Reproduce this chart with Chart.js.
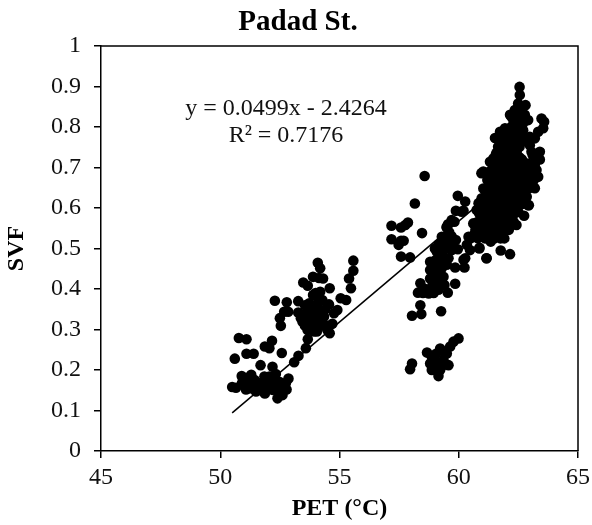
<!DOCTYPE html>
<html lang="en">
<head>
  <meta charset="UTF-8" />
  <title>Padad St.</title>
  <script src="https://cdn.jsdelivr.net/npm/chart.js"></script>
  <style>
    body { margin: 0; background: white; }
    canvas { display: block; }
  </style>
</head>
<body>
  <canvas id="svfChart" width="592" height="525"></canvas>
  <script>
    const titleText = 'Padad St.';
    const xTitle = 'PET (°C)';
    const yTitle = 'SVF';
    const eqLines = ['y = 0.0499x - 2.4264', 'R² = 0.7176'];
    const serif = '"Liberation Serif", serif';

    // pairs [PET, SVF]
    const lowGroup = [[50.5,.158],[50.66,.156],[50.61,.228],[50.78,.279],[51.1,.276],[51.1,.24],[51.4,.24],[51.69,.212],[50.9,.185],[51.3,.188],[50.91,.167],[51.08,.152],[51.22,.171],[51.36,.163],[51.5,.147],[51.64,.167],[51.87,.142],[51.85,.184],[52.19,.208],[52.33,.19],[52.06,.184],[51.92,.167],[52.4,.13],[52.61,.138],[52.78,.152],[52.86,.179],[52.75,.167],[52.33,.155],[52.54,.159],[52.19,.151],[51.87,.258],[52.17,.272],[52.06,.254],[52.58,.242],[52.54,.309],[52.5,.328],[52.68,.344],[52.85,.344],[52.79,.367],[52.29,.371],[53.1,.219],[53.28,.235],[53.59,.254],[53.67,.276],[53.27,.37],[53.27,.342],[53.48,.416],[53.67,.408],[53.89,.43],[54.09,.465],[54.19,.451],[54.14,.427],[54.31,.426],[54.59,.402],[54.19,.393],[53.89,.385],[54.14,.373],[53.73,.365],[54.56,.362],[54.91,.348],[54.77,.34],[55.05,.377],[55.28,.373],[55.48,.402],[55.4,.426],[55.58,.445],[55.58,.47],[53.45,.319],[53.59,.332],[53.73,.307],[53.87,.323],[54,.34],[53.66,.299],[53.93,.295],[54.35,.332],[54.7,.314],[54.49,.299],[54.59,.291],[54.14,.311],[53.38,.328],[53.8,.348],[54.28,.373],
      [50.95,.178],[51.15,.165],[51.3,.155],[51.45,.175],[51.6,.155],[51.75,.15],[52,.155],[52.45,.145],[52.65,.15],[52.5,.17],[53.55,.36],[53.95,.36],[54.05,.36],[53.9,.335],[54.1,.33],[53.7,.33],[53.55,.31],[53.85,.305],[54,.31],[54.25,.33],[54.4,.35],[54,.39],[54.45,.31],
      [51.1,.18],[51.45,.16],[51.75,.165],[52.05,.165],[52.15,.17],[52.35,.17],[52.6,.16],[52.45,.16],[51.2,.155],[53.65,.345],[53.85,.35],[54.15,.345],[54.3,.31],[53.75,.32],[54.05,.295]];

    const bottomGroup = [[58.04,.216],[57.96,.202],[59.99,.278],[59.78,.27],[58.67,.243],[59.15,.185],[58.87,.233],[59.22,.253],[59.5,.241],[59.57,.212],[58.87,.2],[59.22,.2],[59.01,.221],[59.36,.225],[58.8,.216],[59.64,.258],[59.05,.24],[59.3,.21],[59.1,.21],[59.4,.245]];

    const midGroup = [[58.57,.679],[58.16,.611],[57.18,.556],[57.58,.552],[57.87,.564],[57.76,.558],[58.46,.538],[57.18,.523],[57.58,.519],[57.69,.519],[57.48,.509],[57.58,.48],[57.96,.478],[59.26,.345],[58.04,.334],[58.43,.338],[58.39,.36],[58.29,.391],[58.39,.414],[58.74,.389],[59.15,.398],[59.54,.391],[59.85,.413],[59.85,.453],[60.24,.453],[58.8,.467],[58.8,.447],[58.8,.426],[59.08,.41],[59.01,.43],[59.36,.43],[59.29,.451],[59.08,.455],[59.08,.492],[59.36,.496],[59.57,.476],[59.22,.476],[59.71,.496],[59.96,.498],[59.29,.529],[59.64,.525],[59.88,.521],[59.5,.552],[59.82,.566],[59.88,.593],[60.2,.593],[59.96,.63],[60.27,.616],[60.27,.476],[60.47,.496],[60.87,.502],[61.17,.476],
      [59.15,.51],[59.45,.515],[59.7,.51],[59.6,.54],[59.45,.53],[59.3,.49],[59.5,.46],[59.2,.44],[59,.47],[59.15,.47],[58.95,.445],[58.9,.41],[59.2,.415],[58.6,.4],[58.5,.39],[58.95,.39],[59.49,.553],[60.12,.591],[60.2,.472],
      [59,.5],[59.2,.5],[59.55,.5],[59.4,.47],[59.35,.46],[59.1,.43],[59.4,.41],[58.95,.41],[59.15,.435],[59.7,.53],[59.55,.56],[59.7,.57],[59.25,.51]];

    const mainEdge = [[62.55,.899],[62.56,.879],[62.49,.858],[62.8,.854],[62.35,.842],[62.77,.83],[62.21,.825],[62.7,.809],[61.94,.797],[61.73,.772],[61.73,.788],[63.47,.821],[63.58,.813],[63.54,.797],[63.33,.788],[63.19,.772],[62.98,.755],[63.4,.739],[63.4,.72],[63.05,.739],[63.29,.677],[63.26,.694],[63.12,.653],[62.94,.607],[62.74,.581],[62.42,.558],[61.91,.525],[62.15,.486],[61.76,.495],[61.34,.517],[61.16,.476],[60.86,.5],[61.03,.69],[61.45,.722],[61.03,.648],[60.96,.624],[60.75,.595],[60.61,.562],[60.41,.529],[60.34,.509],
      [61.58,.736],[61.31,.714],[61.52,.773],[62.15,.83],[62.91,.817],[62.98,.776],[60.95,.686],[60.83,.612],[63.33,.677],[63.19,.649],[62.91,.607]];

    const mainFill = [[62.42,.834],[62.3,.813],[62.55,.813],[62.1,.792],[62.4,.792],[62.7,.792],[62,.772],[62.3,.772],[62.6,.772],[62.75,.772],[61.65,.751],[61.95,.751],[62.25,.751],[62.55,.751],[61.55,.731],[61.85,.731],[62.15,.731],[62.45,.731],[62.65,.72],[63.1,.731],[61.4,.71],[61.7,.71],[62,.71],[62.3,.71],[62.6,.71],[62.9,.71],[63.2,.71],[61.3,.69],[61.6,.69],[61.9,.69],[62.2,.69],[62.5,.69],[62.8,.69],[63.1,.69],[61.2,.669],[61.5,.669],[61.8,.669],[62.1,.669],[62.4,.669],[62.7,.669],[63,.669],[61.2,.649],[61.5,.649],[61.8,.649],[62.1,.649],[62.4,.649],[62.7,.649],[62.95,.649],[61.1,.628],[61.4,.628],[61.7,.628],[62,.628],[62.3,.628],[62.6,.628],[62.85,.628],[61,.607],[61.3,.607],[61.6,.607],[61.9,.607],[62.2,.607],[62.5,.607],[60.85,.587],[61.15,.587],[61.45,.587],[61.75,.587],[62.05,.587],[62.35,.587],[60.8,.566],[61.1,.566],[61.4,.566],[61.7,.566],[62,.566],[62.3,.566],[60.7,.546],[61,.546],[61.3,.546],[61.6,.546],[61.9,.546],[62.1,.546],[60.5,.525],[60.8,.525],[61.1,.525],[61.5,.525],[61.75,.525],
      [62.5,.845],[62.45,.82],[62.2,.8],[62.55,.8],[61.9,.78],[62.15,.78],[62.45,.78],[61.8,.76],[62.1,.76],[62.4,.76],[61.7,.74],[62,.74],[62.3,.74],[61.6,.72],[61.9,.72],[62.2,.72],[62.5,.72],[63.25,.72],[61.45,.7],[61.75,.7],[62.05,.7],[62.35,.7],[62.65,.7],[62.95,.7],[61.35,.68],[61.65,.68],[61.95,.68],[62.25,.68],[62.55,.68],[62.85,.68],[61.35,.66],[61.65,.66],[61.95,.66],[62.25,.66],[62.55,.66],[62.85,.66],[61.25,.64],[61.55,.64],[61.85,.64],[62.15,.64],[62.45,.64],[62.75,.64],[61.15,.62],[61.45,.62],[61.75,.62],[62.05,.62],[62.35,.62],[62.65,.62],[61,.6],[61.3,.6],[61.6,.6],[61.9,.6],[62.2,.6],[60.95,.575],[61.25,.575],[61.55,.575],[61.85,.575],[62.15,.575],[60.85,.555],[61.15,.555],[61.45,.555],[61.75,.555],[62.05,.555],[60.65,.535],[60.95,.535],[61.25,.535],[61.55,.535],[61.85,.535],
      [62.35,.805],[62.6,.805],[62.25,.785],[62.55,.785],[61.9,.765],[62.2,.765],[62.5,.765],[62.7,.765],[61.85,.745],[62.15,.745],[62.45,.745],[61.7,.725],[62,.725],[62.3,.725],[62.55,.725],[61.55,.705],[61.85,.705],[62.15,.705],[62.45,.705],[62.75,.705],[63.05,.705],[61.45,.685],[61.75,.685],[62.05,.685],[62.35,.685],[62.65,.685],[62.95,.685],[61.35,.67],[61.65,.67],[61.95,.67],[62.25,.67],[62.55,.67],[62.85,.67],[63.15,.67],[61.35,.65],[61.65,.65],[61.95,.65],[62.25,.65],[62.55,.65],[62.85,.65],[61.25,.63],[61.55,.63],[61.85,.63],[62.15,.63],[62.45,.63],[62.75,.63],[61.15,.61],[61.45,.61],[61.75,.61],[62.05,.61],[62.35,.61],[62.65,.61],[61,.59],[61.3,.59],[61.6,.59],[61.9,.59],[62.2,.59],[62.5,.59],[60.95,.57],[61.25,.57],[61.55,.57],[61.85,.57],[62.15,.57],[60.85,.55],[61.15,.55],[61.45,.55],[61.75,.55],[62,.55]];

    const trendLine = [[50.5,.094],[63.58,.746]];

    const allPoints = [...lowGroup, ...bottomGroup, ...midGroup, ...mainEdge, ...mainFill];

    // frame and equation text are not something the scales draw by themselves
    const extras = {
      id: 'extras',
      afterDraw(chart) {
        const c = chart.ctx, a = chart.chartArea;
        c.save();
        c.strokeStyle = '#000';
        c.lineWidth = 1.5;
        c.beginPath();
        c.moveTo(a.left, a.top);
        c.lineTo(a.right, a.top);
        c.lineTo(a.right, a.bottom);
        c.stroke();
        c.fillStyle = '#111';
        c.font = '24px ' + serif;
        c.textAlign = 'center';
        c.fillText(eqLines[0], 286, 115);
        c.fillText(eqLines[1], 286, 142);
        c.restore();
      }
    };

    new Chart(document.getElementById('svfChart'), {
      type: 'scatter',
      data: {
        datasets: [
          {
            data: trendLine.map(p => ({ x: p[0], y: p[1] })),
            showLine: true, borderColor: '#000', borderWidth: 1.5, pointRadius: 0, order: 0
          },
          {
            data: allPoints.map(p => ({ x: p[0], y: p[1] })),
            backgroundColor: '#000', borderWidth: 0, pointRadius: 5.3, order: 1
          }
        ]
      },
      options: {
        responsive: false,
        animation: false,
        layout: { padding: { left: 18, right: 14, bottom: 0, top: 0 } },
        plugins: {
          legend: { display: false },
          tooltip: { enabled: false },
          title: {
            display: true, text: titleText, color: '#000',
            font: { family: serif, size: 29, weight: 'bold' },
            padding: { top: 5, bottom: 6.2 }
          }
        },
        scales: {
          x: {
            min: 45, max: 65,
            ticks: { stepSize: 5, color: '#111', font: { family: serif, size: 24 }, maxRotation: 0, padding: 5 },
            grid: { drawOnChartArea: false, drawTicks: true, tickLength: 7, color: '#000', lineWidth: 1.5 },
            border: { color: '#000', width: 1.5 },
            title: { display: true, text: xTitle, color: '#000', font: { family: serif, size: 24, weight: 'bold' }, padding: { top: 0, bottom: 2 } },
            // the last tick label may hang past the plot, keep the right edge where it is
            afterFit(s) { s.height = 74; s.paddingLeft = 0; s.paddingRight = 0; }
          },
          y: {
            min: 0, max: 1,
            ticks: { stepSize: 0.1, color: '#111', font: { family: serif, size: 24 }, callback: v => +v.toFixed(1), padding: 13 },
            grid: { drawOnChartArea: false, drawTicks: true, tickLength: 7, color: '#000', lineWidth: 1.5 },
            border: { color: '#000', width: 1.5 },
            title: { display: true, text: yTitle, color: '#000', font: { family: serif, size: 24, weight: 'bold' }, padding: { top: -15.4, bottom: 0 } },
            afterFit(s) { s.width = 83; s.paddingTop = 0; s.paddingBottom = 0; }
          }
        }
      },
      plugins: [extras]
    });
  </script>
</body>
</html>
